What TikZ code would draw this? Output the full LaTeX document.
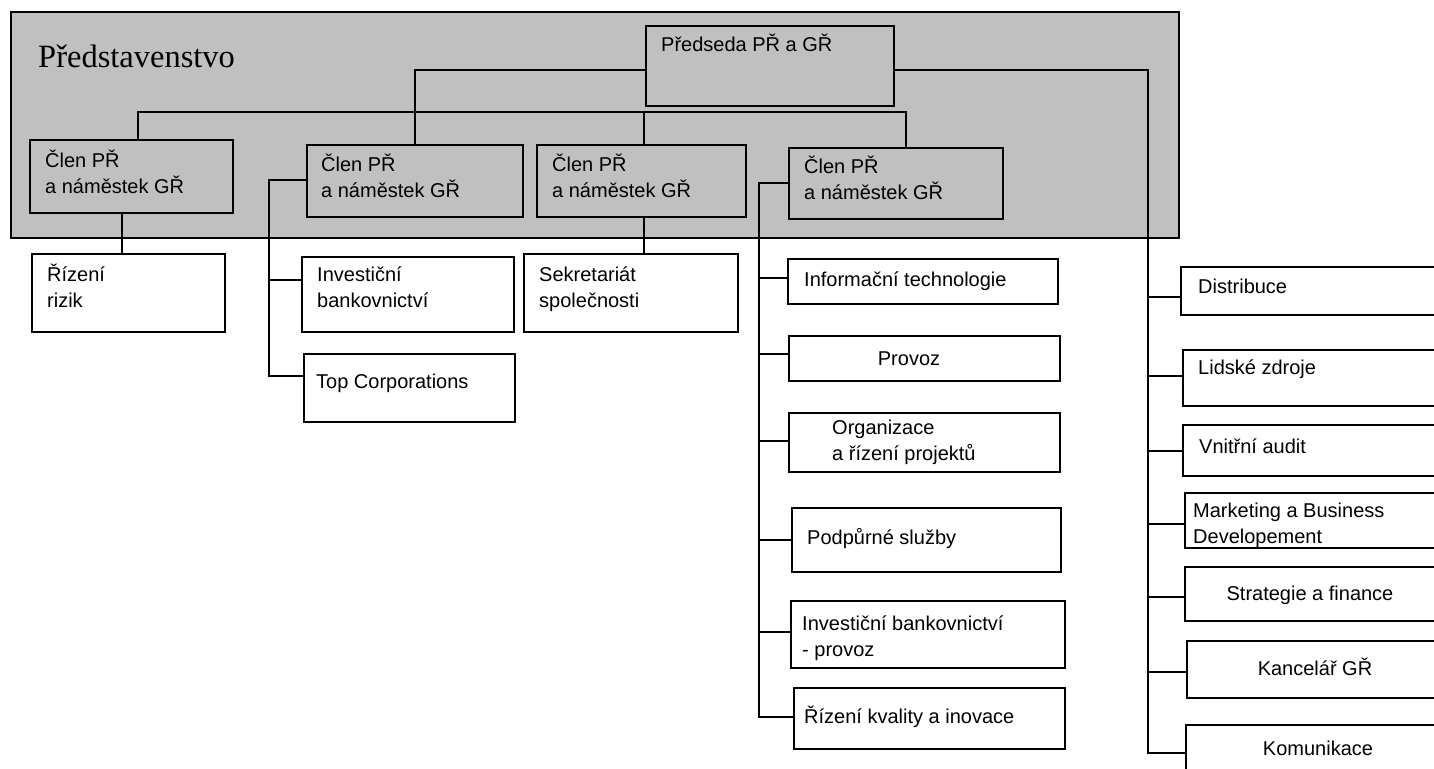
\documentclass[tikz,border=0pt]{standalone}
\usepackage{fontspec}
\newfontfamily\chartsans{Liberation Sans}
\newfontfamily\chartserif{Liberation Serif}
\definecolor{panelgray}{RGB}{192,192,192}
\tikzset{
  boxn/.style={draw=black, line width=2pt, inner sep=0pt, anchor=north west},
  panelbox/.style={draw=black, fill=panelgray, line width=2.2pt, inner sep=0pt, anchor=north west},
  conn/.style={draw=black, line width=1.6pt},
  txt/.style={font=\chartsans\fontsize{20}{26}\selectfont, inner sep=0pt, align=left, anchor=base west},
  ctxt/.style={font=\chartsans\fontsize{20}{26}\selectfont, inner sep=0pt, align=center, anchor=base},
}
\begin{document}
\begin{tikzpicture}[x=1pt,y=-1pt]
\useasboundingbox (0,0) rectangle (1434,768);
\fill[white] (0,0) rectangle (1434,768);

% board panel
\node[panelbox, minimum width=1168pt, minimum height=226pt] (board) at (10,11) {};
\node[font=\chartserif\fontsize{32.5}{36}\selectfont, inner sep=0pt, anchor=base west] (boardlbl) at (38,67) {Představenstvo};

% board boxes
\node[boxn, minimum width=248pt, minimum height=80pt] (pred) at (645,25) {};
\node[boxn, minimum width=203pt, minimum height=73pt] (m1) at (29,139) {};
\node[boxn, minimum width=216pt, minimum height=72pt] (m2) at (306,144) {};
\node[boxn, minimum width=209pt, minimum height=72pt] (m3) at (536,144) {};
\node[boxn, minimum width=214pt, minimum height=71pt] (m4) at (788,147) {};

% subordinate boxes
\node[boxn, minimum width=193pt, minimum height=78pt] (riz) at (31,253) {};
\node[boxn, minimum width=212pt, minimum height=75pt] (inv) at (301,256) {};
\node[boxn, minimum width=211pt, minimum height=68pt] (topc) at (303,353) {};
\node[boxn, minimum width=214pt, minimum height=78pt] (sek) at (523,253) {};

\node[boxn, minimum width=270pt, minimum height=45pt] (it) at (787,258) {};
\node[boxn, minimum width=271pt, minimum height=45pt] (prov) at (788,335) {};
\node[boxn, minimum width=271pt, minimum height=59pt] (org) at (788,412) {};
\node[boxn, minimum width=269pt, minimum height=64pt] (pod) at (791,507) {};
\node[boxn, minimum width=274pt, minimum height=67pt] (ibp) at (790,600) {};
\node[boxn, minimum width=271pt, minimum height=61pt] (rkv) at (793,687) {};

\node[boxn, minimum width=300pt, minimum height=48pt] (dis) at (1180,266) {};
\node[boxn, minimum width=300pt, minimum height=56pt] (lid) at (1182,349) {};
\node[boxn, minimum width=300pt, minimum height=51pt] (vni) at (1182,424) {};
\node[boxn, minimum width=300pt, minimum height=55pt] (mkt) at (1184,492) {};
\node[boxn, minimum width=300pt, minimum height=54pt] (str) at (1184,566) {};
\node[boxn, minimum width=300pt, minimum height=57pt] (kan) at (1186,640) {};
\node[boxn, minimum width=300pt, minimum height=70pt] (kom) at (1185,724) {};

% texts (multi-line nodes: anchor = baseline of last line)
\node[txt] (tpred) at (661,52) {Předseda PŘ a GŘ};
\node[txt] (tm1) at (45,193) {Člen PŘ\\a náměstek GŘ};
\node[txt] (tm2) at (321,197) {Člen PŘ\\a náměstek GŘ};
\node[txt] (tm3) at (552,197) {Člen PŘ\\a náměstek GŘ};
\node[txt] (tm4) at (804,199) {Člen PŘ\\a náměstek GŘ};
\node[txt] (triz) at (47,307) {Řízení\\rizik};
\node[txt] (tinv) at (317,307) {Investiční\\bankovnictví};
\node[txt] (ttop) at (316,388) {Top Corporations};
\node[txt] (tsek) at (539,307) {Sekretariát\\společnosti};
\node[txt] (tit) at (804,286) {Informační technologie};
\node[ctxt] (tprov) at (909,365) {Provoz};
\node[txt] (torg) at (832,460) {Organizace\\a řízení projektů};
\node[txt] (tpod) at (807,544) {Podpůrné služby};
\node[txt] (tibp) at (802,656) {Investiční bankovnictví\\- provoz};
\node[txt] (trkv) at (804,723) {Řízení kvality a inovace};
\node[txt] (tdis) at (1198,293) {Distribuce};
\node[txt] (tlid) at (1198,374) {Lidské zdroje};
\node[txt] (tvni) at (1199,453) {Vnitřní audit};
\node[txt] (tmkt) at (1193,543) {Marketing a Business\\Developement};
\node[ctxt] (tstr) at (1310,600) {Strategie a finance};
\node[ctxt] (tkan) at (1315,675) {Kancelář GŘ};
\node[ctxt] (tkom) at (1318,755) {Komunikace};

% connector junctions
\coordinate (c1) at (415,70);
\coordinate (c2) at (138,112);
\coordinate (c3) at (906,112);
\coordinate (c4) at (644,112);
\coordinate (c5) at (122,212);
\coordinate (c6) at (269,180);
\coordinate (c7) at (269,376);
\coordinate (c8) at (269,280);
\coordinate (c9) at (644,216);
\coordinate (b4top) at (759,183);
\coordinate (b4bot) at (759,717);
\coordinate (rtop) at (1148,70);
\coordinate (rbot) at (1148,753);

% board connectors
\draw[conn] (pred.west |- c1) -- (c1) -- (c1 |- m2.north);
\draw[conn] (c2 |- m1.north) -- (c2) -- (c3) -- (c3 |- m4.north);
\draw[conn] (c4) -- (c4 |- m3.north);
\draw[conn] (c5 |- m1.south) -- (c5 |- riz.north);
\draw[conn] (c9 |- m3.south) -- (c9 |- sek.north);
\draw[conn] (m2.west |- c6) -- (c6) -- (c7) -- (c7 -| topc.west);
\draw[conn] (c8) -- (c8 -| inv.west);

% column under m4
\draw[conn] (m4.west |- b4top) -- (b4top) -- (b4bot) -- (b4bot -| rkv.west);
\foreach \yy/\nn in {278/it, 354/prov, 441/org, 540/pod, 632/ibp} {
  \coordinate (k\nn) at (759,\yy);
  \draw[conn] (k\nn) -- (k\nn -| \nn.west);
}

% right column under chairman
\draw[conn] (pred.east |- rtop) -- (rtop) -- (rbot) -- (rbot -| kom.west);
\foreach \yy/\nn in {297/dis, 376/lid, 451/vni, 524/mkt, 597/str, 672/kan} {
  \coordinate (r\nn) at (1148,\yy);
  \draw[conn] (r\nn) -- (r\nn -| \nn.west);
}
\end{tikzpicture}
\end{document}
